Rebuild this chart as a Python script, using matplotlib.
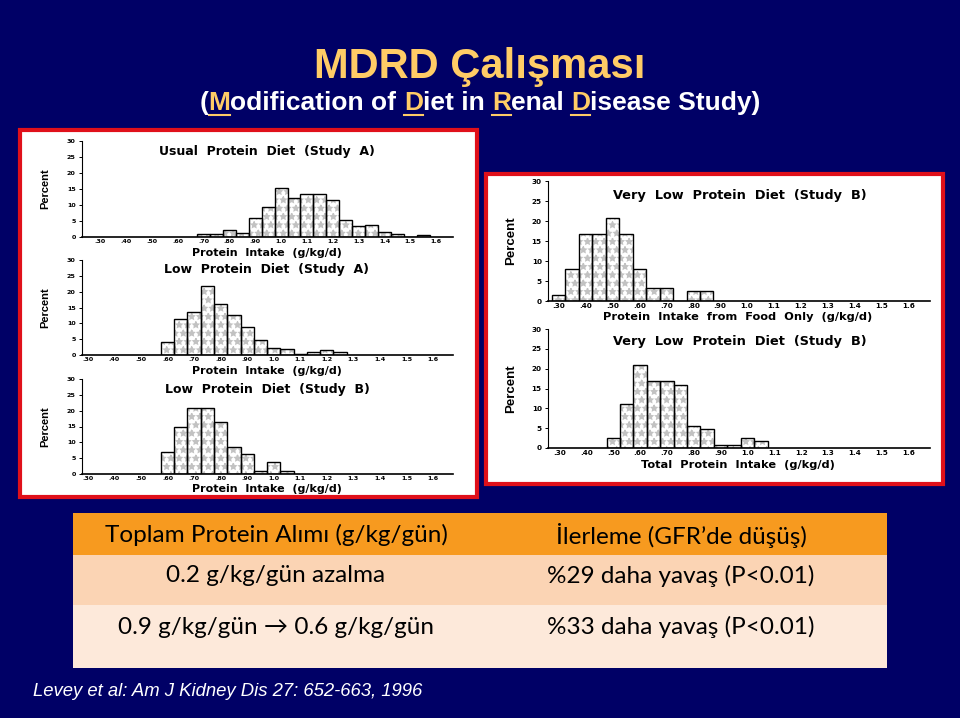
import matplotlib.pyplot as plt
from matplotlib.patches import Rectangle
from matplotlib.lines import Line2D

W, H = 960, 718
NAVY = '#000066'
GOLD = '#FFCC66'

# x axis ticks shared by all histograms
tick_values = [0.30, 0.40, 0.50, 0.60, 0.70, 0.80, 0.90, 1.0, 1.1, 1.2, 1.3, 1.4, 1.5, 1.6]
tick_labels = ['.30', '.40', '.50', '.60', '.70', '.80', '.90', '1.0', '1.1', '1.2', '1.3', '1.4', '1.5', '1.6']
y_ticks = [0, 5, 10, 15, 20, 25, 30]

# Usual protein diet (Study A)
usual_a_x = [0.70, 0.75, 0.80, 0.85, 0.90, 0.95, 1.00, 1.05, 1.10, 1.15, 1.20, 1.25, 1.30, 1.35, 1.40, 1.45, 1.50, 1.55]
usual_a_pct = [1.0, 0.8, 2.1, 1.4, 5.8, 9.4, 15.2, 12.3, 13.5, 13.5, 11.7, 5.2, 3.3, 3.6, 1.5, 0.8, 0.0, 0.5]

# Low protein diet (Study A)
low_a_x = [0.60, 0.65, 0.70, 0.75, 0.80, 0.85, 0.90, 0.95, 1.00, 1.05, 1.10, 1.15, 1.20, 1.25]
low_a_pct = [4.2, 11.5, 13.7, 21.7, 16.1, 12.6, 8.7, 4.6, 2.2, 1.8, 0.4, 0.8, 1.5, 0.8]

# Low protein diet (Study B)
low_b_x = [0.60, 0.65, 0.70, 0.75, 0.80, 0.85, 0.90, 0.95, 1.00, 1.05]
low_b_pct = [7.0, 14.7, 21.0, 21.0, 16.3, 8.5, 6.3, 0.8, 3.9, 0.8]

# Very low protein diet (Study B), food only
vlow_food_x = [0.30, 0.35, 0.40, 0.45, 0.50, 0.55, 0.60, 0.65, 0.70, 0.75, 0.80, 0.85]
vlow_food_pct = [1.5, 8.0, 16.8, 16.8, 20.8, 16.8, 8.0, 3.2, 3.2, 0.0, 2.5, 2.5]

# Very low protein diet (Study B), total intake
vlow_total_x = [0.50, 0.55, 0.60, 0.65, 0.70, 0.75, 0.80, 0.85, 0.90, 0.95, 1.00, 1.05]
vlow_total_pct = [2.4, 11.2, 20.8, 16.8, 16.8, 16.0, 5.6, 4.8, 0.8, 0.8, 2.5, 1.7]

table_header = ['Toplam Protein Alımı (g/kg/gün)', 'İlerleme (GFR’de düşüş)']
table_rows = [['0.2 g/kg/gün azalma', '%29 daha yavaş (P<0.01)'],
              ['0.9 g/kg/gün → 0.6 g/kg/gün', '%33 daha yavaş (P<0.01)']]

SANS = ['Liberation Sans', 'DejaVu Sans']

fig = plt.figure(figsize=(W / 100, H / 100), dpi=100, facecolor=NAVY)


def fx(x):
    return x / W


def fy(y):
    return 1 - y / H


def box(x0, y0, x1, y1, **kw):
    fig.add_artist(Rectangle((fx(x0), fy(y1)), (x1 - x0) / W, (y1 - y0) / H,
                             transform=fig.transFigure, zorder=-2, **kw))


def ptext(x, y, s, **kw):
    return fig.text(fx(x), fy(y), s, **kw)


# white panels with red frames
box(20, 130, 477, 497, facecolor='white', edgecolor='#E0101A', linewidth=3)
box(486, 174, 943, 484, facecolor='white', edgecolor='#E0101A', linewidth=3)


def histogram(x0, x1, ytop, ybot, xs, vals, xlim, title, xlabel, big=False):
    ax = fig.add_axes([fx(x0), fy(ybot), (x1 - x0) / W, (ybot - ytop) / H])
    ax.patch.set_alpha(0)
    ax.bar(xs, vals, width=0.05, color='white', edgecolor='#c2c2c2',
           hatch='**', linewidth=0)
    ax.bar(xs, vals, width=0.05, fill=False, edgecolor='black', linewidth=1.0)
    ax.set_xlim(xlim)
    ax.set_ylim(0, 30)
    ax.set_xticks(tick_values)
    ax.set_xticklabels(tick_labels)
    ax.set_yticks(y_ticks)
    for s in ['top', 'right']:
        ax.spines[s].set_visible(False)
    ax.spines['left'].set_linewidth(0.8)
    ax.spines['bottom'].set_linewidth(1.2)
    fs = 4.6 if not big else 5.2
    ax.tick_params(axis='x', length=0, pad=1.5, labelsize=fs)
    ax.tick_params(axis='y', length=2.5, width=0.7, pad=2, labelsize=fs)
    for lab in ax.get_xticklabels() + ax.get_yticklabels():
        lab.set_fontweight('bold')
        lab.set_family('DejaVu Sans')
    ptext(title[0], title[1], title[2], ha='center', va='center',
          fontsize=9.3 if big else 9.0, weight='bold', family='DejaVu Sans')
    ptext(xlabel[0], xlabel[1], xlabel[2], ha='center', va='center',
          fontsize=8.2 if big else 8.0, weight='bold', family='DejaVu Sans')
    ptext(x0 - 37, (ytop + ybot) / 2, 'Percent', rotation=90,
          ha='center', va='center', fontsize=9.5 if big else 8, weight='bold',
          family=SANS)
    return ax


histogram(82, 453, 141, 237, usual_a_x, usual_a_pct, (0.23, 1.665),
          (267, 152, 'Usual  Protein  Diet  (Study  A)'),
          (267, 253, 'Protein  Intake  (g/kg/d)'))
histogram(82, 453, 260, 355, low_a_x, low_a_pct, (0.278, 1.675),
          (267, 270, 'Low  Protein  Diet  (Study  A)'),
          (267, 371, 'Protein  Intake  (g/kg/d)'))
histogram(82, 453, 379, 474, low_b_x, low_b_pct, (0.278, 1.675),
          (267, 390, 'Low  Protein  Diet  (Study  B)'),
          (267, 489, 'Protein  Intake  (g/kg/d)'))
histogram(548, 930, 181, 301, vlow_food_x, vlow_food_pct, (0.26, 1.68),
          (740, 195, 'Very  Low  Protein  Diet  (Study  B)'),
          (738, 317, 'Protein  Intake  from  Food  Only  (g/kg/d)'), big=True)
histogram(548, 930, 329, 448, vlow_total_x, vlow_total_pct, (0.257, 1.68),
          (740, 342, 'Very  Low  Protein  Diet  (Study  B)'),
          (738, 465, 'Total  Protein  Intake  (g/kg/d)'), big=True)

# title
ptext(480, 78, 'MDRD Çalışması', ha='center', va='baseline', fontsize=30,
      weight='bold', color=GOLD, family=SANS)

# subtitle: white text with gold underlined initials
sub = '(Modification of Diet in Renal Disease Study)'
gold_idx = [1, sub.index('Diet'), sub.index('Renal'), sub.index('Disease')]
renderer = fig.canvas.get_renderer()
sub_kw = dict(fontsize=19, weight='bold', family=SANS, va='baseline', ha='left')


def right_edge(s):
    t = ptext(0, 110, s, **sub_kw)
    r = t.get_window_extent(renderer).x1
    t.remove()
    return r


left = 480 - right_edge(sub) / 2
ptext(left, 110, sub[:gold_idx[0]], color='white', **sub_kw)
for k, i in enumerate(gold_idx):
    r = right_edge(sub[:i + 1])
    lw = right_edge(sub[i])
    ptext(left + r - lw, 110, sub[i], color=GOLD, **sub_kw)
    fig.add_artist(Line2D([fx(left + r - lw), fx(left + r)], [fy(115), fy(115)],
                          transform=fig.transFigure, color=GOLD, linewidth=1.5))
    end = gold_idx[k + 1] if k + 1 < len(gold_idx) else len(sub)
    ptext(left + r, 110, sub[i + 1:end], color='white', **sub_kw)

# table
box(73, 513, 887, 555, facecolor='#F79A1F', edgecolor='none')
box(73, 555, 887, 605, facecolor='#FBD4B4', edgecolor='none')
box(73, 605, 887, 668, facecolor='#FDE9DA', edgecolor='none')
col_x = [276, 681]
row_y = [535, 576, 627]
TAB = ['Lato', 'DejaVu Sans']
for j, s in enumerate(table_header):
    ptext(col_x[j], row_y[0], s, ha='center', va='center', fontsize=17.5, family=TAB)
for i, row in enumerate(table_rows):
    for j, s in enumerate(row):
        ptext(col_x[j], row_y[i + 1], s, ha='center', va='center', fontsize=17.5, family=TAB)

# citation
ptext(33, 691, 'Levey et al: Am J Kidney Dis 27: 652-663, 1996', ha='left', va='center',
      fontsize=13.3, style='italic', color='white', family=SANS)

fig.savefig('out.png', dpi=100, facecolor=NAVY)
